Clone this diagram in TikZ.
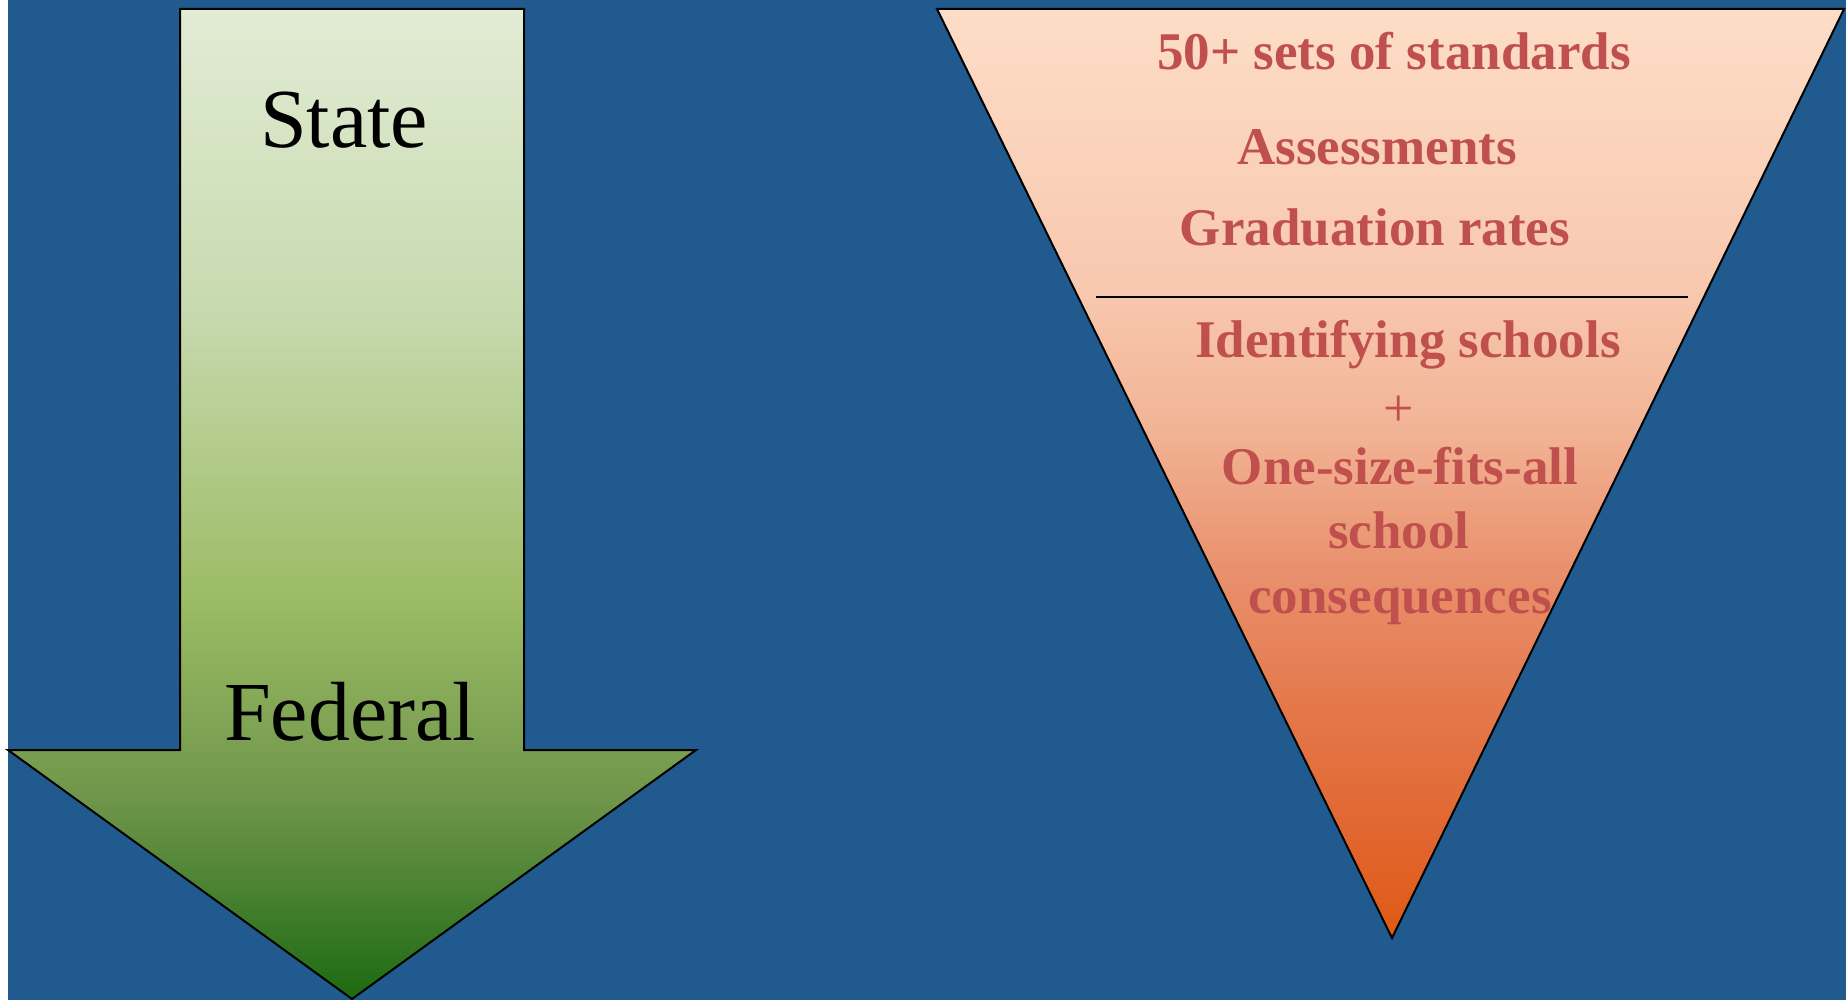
\documentclass[tikz,border=0pt]{standalone}
\usepackage{fontspec}
\setmainfont{Liberation Serif}
\definecolor{bgblue}{HTML}{215A8E}
\definecolor{txtred}{HTML}{C0504D}
\definecolor{g0}{HTML}{E1ECD4}
\definecolor{g1}{HTML}{C8DAB0}
\definecolor{g2}{HTML}{9BBB64}
\definecolor{g3}{HTML}{6E954A}
\definecolor{g4}{HTML}{1C6A12}
\definecolor{o0}{HTML}{FDDDC7}
\definecolor{o1}{HTML}{F8C8AF}
\definecolor{o2}{HTML}{F2B496}
\definecolor{o3}{HTML}{E9916E}
\definecolor{o4}{HTML}{E4784B}
\definecolor{o5}{HTML}{E1642D}
\definecolor{o6}{HTML}{E05A14}
\pgfdeclareverticalshading{greenshade}{100bp}{color(0bp)=(g4); color(25bp)=(g4); color(35bp)=(g3); color(45bp)=(g2); color(60bp)=(g1); color(75bp)=(g0); color(100bp)=(g0)}
\pgfdeclareverticalshading{orangeshade}{100bp}{color(0bp)=(o6); color(25bp)=(o6); color(30bp)=(o5); color(37.5bp)=(o4); color(45bp)=(o3); color(52.5bp)=(o2); color(60bp)=(o1); color(75bp)=(o0); color(100bp)=(o0)}
\tikzset{
  outline/.style={draw=black, line width=1pt, line join=miter},
  redtxt/.style={anchor=base, text=txtred, font=\fontsize{26.5pt}{32pt}\selectfont\bfseries, inner sep=0pt},
  bigtxt/.style={anchor=base, text=black, font=\fontsize{42pt}{48pt}\selectfont, inner sep=0pt}
}
\begin{document}
\begin{tikzpicture}[x=0.5pt, y=-0.5pt]
\useasboundingbox (0,0) rectangle (1846,1000);
\fill[white] (0,0) rectangle (1846,1000);
\fill[bgblue] (8,0) rectangle (1846,1000);
% green down arrow
\path[outline, shade, shading=greenshade]
  (180,9) coordinate (sA) -- (524,9) coordinate (sB) -- (524,750) -- (696,750) coordinate (wR)
  -- (352,999) coordinate (tip) -- (8,750) coordinate (wL) -- (180,750) -- cycle;
\node[bigtxt] (state) at (344,148) {State};
\node[bigtxt] (federal) at (350,740) {Federal};
% inverted triangle
\path[outline, shade, shading=orangeshade]
  (937,9) coordinate (tL) -- (1844,9) coordinate (tR) -- (1392,938) coordinate (tT) -- cycle;
\coordinate (sepL) at (1096,297);
\coordinate (sepR) at (1688,297);
\draw[line width=1pt] (sepL) -- (sepR);
\node[redtxt] (t1) at (1394,70) {50+ sets of standards};
\node[redtxt] (t2) at (1377,165) {Assessments};
\node[redtxt] (t3) at (1375,246) {Graduation rates};
\node[redtxt] (t4) at (1408,357) {Identifying schools};
\node[redtxt, font=\fontsize{27pt}{32pt}\selectfont] (t5) at (1399,426) {+};
\node[redtxt] (t6) at (1400,484) {One-size-fits-all};
\node[redtxt] (t7) at (1399,548) {school};
\node[redtxt] (t8) at (1400,613) {consequences};
\end{tikzpicture}
\end{document}
